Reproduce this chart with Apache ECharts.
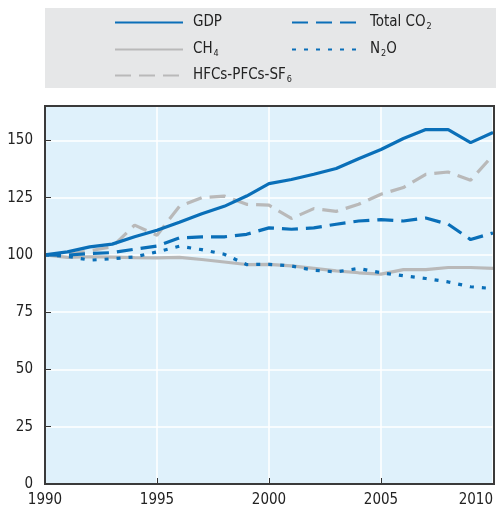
<!DOCTYPE html>
<html>
<head>
<meta charset="utf-8">
<script src="https://cdn.jsdelivr.net/npm/echarts@6/dist/echarts.min.js"></script>
<style>
  html, body { margin: 0; padding: 0; background: #fff; }
  #chart { width: 496px; height: 513px; }
</style>
</head>
<body>
<div id="chart"></div>
<script>
// index values, 1990 = 100
const years = [1990, 1991, 1992, 1993, 1994, 1995, 1996, 1997, 1998, 1999, 2000,
  2001, 2002, 2003, 2004, 2005, 2006, 2007, 2008, 2009, 2010]
const gdp = [100, 101.3, 103.5, 104.7, 107.9, 110.8, 114.3, 118, 121.2, 125.7, 131.1,
  132.9, 135.2, 137.7, 142, 146, 150.8, 154.7, 154.7, 149, 153.4]
const co2 = [100, 99.9, 100.6, 101, 102.5, 103.9, 107.4, 107.9, 107.9, 109, 111.8,
  111.2, 111.8, 113.4, 114.8, 115.4, 114.8, 116.1, 113.4, 106.7, 109.6]
const ch4 = [100, 98.9, 99.2, 99, 98.8, 98.7, 98.9, 98, 96.9, 95.8, 95.9,
  95.2, 94.1, 93, 92.2, 91.6, 93.6, 93.6, 94.5, 94.5, 94.1]
const n2o = [100, 99.4, 97.7, 98.3, 99.1, 101.3, 103.8, 102.3, 100.3, 95.8, 95.9,
  95.2, 93.3, 92.6, 94.1, 92.2, 90.9, 89.7, 88.2, 86.1, 85.3]
const hfc = [100, 100.3, 101.8, 103.5, 113, 108.6, 121.2, 125, 125.7, 122.1, 121.7,
  115.9, 120.2, 119, 122.1, 126.5, 129.4, 135.2, 136.2, 132.6, 143.5]
const yTicks = [0, 25, 50, 75, 100, 125, 150]

const font = "'Liberation Sans Narrow', 'DejaVu Sans Condensed', sans-serif"
const blue = "#0a6fb8"
const grey = "#b9b9b9"

function pairs(vals) {
  return years.map((y, i) => [y, vals[i]])
}

const rich = {
  sub: { fontSize: 9, fontFamily: font, color: "#222", padding: [9, 0, 0, 1] },
}

function legendAt(name, left, top) {
  return {
    data: [name],
    left: left,
    top: top,
    itemWidth: 68,
    itemHeight: 14,
    itemStyle: { opacity: 0 },
    textStyle: {
      fontFamily: font,
      fontSize: 15,
      color: "#222",
      padding: [0, 0, 0, 5],
      rich: rich,
    },
    formatter: function (n) {
      if (n === "Total CO2") return "Total CO{sub|2}"
      if (n === "CH4") return "CH{sub|4}"
      if (n === "N2O") return "N{sub|2}O"
      if (n === "HFCs") return "HFCs-PFCs-SF{sub|6}"
      return n
    },
    selectedMode: false,
  }
}

function lineSeries(name, vals, color, type, z) {
  return {
    name: name,
    type: "line",
    data: pairs(vals),
    symbol: "none",
    z: z,
    lineStyle: { color: color, width: 3.2, type: type },
    itemStyle: { color: color },
  }
}

let myChart = echarts.init(document.getElementById("chart"))
myChart.setOption({
  animation: false,
  graphic: [
    {
      type: "rect",
      shape: { x: 45, y: 8, width: 451, height: 80 },
      style: { fill: "#e6e7e8" },
      z: -10,
    },
    {
      // plot frame
      type: "rect",
      shape: { x: 45, y: 106, width: 449, height: 378 },
      style: { fill: null, stroke: "#3a3a3a", lineWidth: 2 },
      z: 50,
    },
  ],
  legend: [
    legendAt("GDP", 109, 10),
    legendAt("Total CO2", 286, 10),
    legendAt("CH4", 109, 37),
    legendAt("N2O", 286, 37),
    legendAt("HFCs", 109, 63),
  ],
  grid: {
    left: 45,
    right: 2,
    top: 106,
    bottom: 29,
    show: true,
    backgroundColor: "#dff1fb",
    borderWidth: 0,
  },
  xAxis: {
    type: "value",
    min: 1990,
    max: 2010,
    interval: 5,
    axisLine: { show: false },
    axisTick: { show: true, inside: true, length: 6, lineStyle: { color: "#333", width: 1 } },
    splitLine: { show: true, lineStyle: { color: "#fff", width: 1.5 } },
    axisLabel: {
      fontFamily: font,
      fontSize: 15,
      color: "#222",
      margin: 9,
      alignMaxLabel: "right",
      formatter: (v) => String(v),
    },
  },
  yAxis: {
    type: "value",
    min: 0,
    max: 165,
    interval: 25,
    axisLine: { show: false },
    axisTick: { show: true, inside: true, length: 6, lineStyle: { color: "#333", width: 1 } },
    splitLine: { show: true, lineStyle: { color: "#fff", width: 1.5 } },
    axisLabel: {
      fontFamily: font,
      fontSize: 15,
      color: "#222",
      margin: 12,
      formatter: (v) => (yTicks.indexOf(v) >= 0 ? String(v) : ""),
    },
  },
  series: [
    lineSeries("CH4", ch4, grey, "solid", 2),
    lineSeries("HFCs", hfc, grey, [16, 8], 3),
    lineSeries("N2O", n2o, blue, [4, 8], 4),
    lineSeries("Total CO2", co2, blue, [16, 8], 5),
    lineSeries("GDP", gdp, blue, "solid", 6),
  ],
})
</script>
</body>
</html>
